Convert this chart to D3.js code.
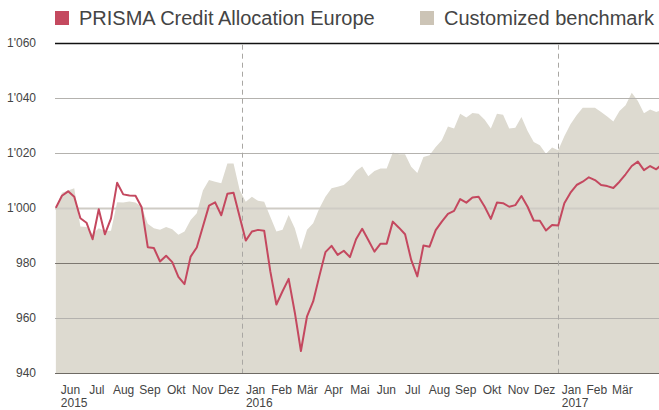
<!DOCTYPE html>
<html>
<head>
<meta charset="utf-8">
<script src="https://cdn.jsdelivr.net/npm/d3@7"></script>
<style>
  body { margin: 0; background: #fff; }
  svg { display: block; font-family: "Liberation Sans", Arial, sans-serif; }
</style>
</head>
<body>
<svg id="chart"></svg>
<script>
// weekly index values (base 1000)
const fundName = "PRISMA Credit Allocation Europe";
const benchName = "Customized benchmark";

const fund = [
  1000.0, 1004.4, 1006.0, 1004.0, 996.2, 994.6, 988.6, 999.5, 990.4, 996.2,
  1009.1, 1004.9, 1004.5, 1004.4, 1000.2, 985.7, 985.4, 980.5, 982.6, 980.3,
  974.9, 972.3, 982.3, 985.6, 993.2, 1000.8, 1002.0, 997.3, 1005.1, 1005.5,
  996.8, 988.1, 991.4, 992.0, 991.7, 977.0, 964.9, 969.7, 974.2, 962.0,
  948.0, 960.6, 966.0, 975.1, 983.9, 986.2, 982.9, 984.4, 982.1, 988.6,
  992.4, 988.3, 984.1, 987.0, 987.0, 995.0, 992.8, 990.4, 981.1, 975.1,
  986.3, 985.9, 991.9, 995.0, 997.8, 998.9, 1003.2, 1001.9, 1003.8, 1004.0,
  1000.4, 996.0, 1001.9, 1001.7, 1000.4, 1001.0, 1004.3, 1000.4, 995.4, 995.3,
  991.8, 993.8, 993.6, 1001.7, 1005.5, 1008.3, 1009.5, 1011.1, 1010.1, 1008.3,
  1007.9, 1007.2, 1009.5, 1012.2, 1015.2, 1016.8, 1013.7, 1015.2, 1014.0, 1016.0
];

const bench = [
  1000.0, 1005.5, 1006.3, 1007.1, 993.2, 993.0, 990.5, 992.6, 991.6, 991.7,
  1002.0, 1001.9, 1002.3, 1001.9, 1000.4, 994.2, 992.6, 992.0, 993.0, 992.2,
  990.2, 991.4, 995.6, 998.0, 1006.3, 1010.1, 1009.5, 1008.9, 1016.1, 1016.1,
  1006.5, 1002.2, 1004.0, 1002.6, 1002.2, 996.8, 991.4, 992.0, 997.4, 992.6,
  984.8, 992.0, 994.4, 999.8, 1004.0, 1007.1, 1007.7, 1008.3, 1010.3, 1013.4,
  1015.0, 1011.5, 1013.4, 1014.3, 1014.3, 1020.1, 1019.5, 1019.5, 1014.9, 1012.7,
  1018.5, 1019.1, 1022.1, 1024.6, 1029.6, 1028.8, 1034.2, 1032.8, 1034.5, 1034.2,
  1032.0, 1028.8, 1034.2, 1033.8, 1028.8, 1029.1, 1033.0, 1027.9, 1023.9, 1022.7,
  1019.7, 1021.9, 1020.9, 1026.0, 1030.4, 1033.6, 1036.4, 1036.4, 1036.4, 1034.8,
  1033.2, 1031.4, 1035.2, 1037.3, 1041.8, 1038.8, 1034.4, 1035.7, 1034.8, 1035.7
];

const yTicks = [940, 960, 980, 1000, 1020, 1040, 1060];
const monthNames = ["Jan", "Feb", "Mär", "Apr", "Mai", "Jun", "Jul", "Aug", "Sep", "Okt", "Nov", "Dez"];

const firstDate = new Date(2015, 4, 30);
const stepDays = 7.1;

const width = 659, height = 410;
const margin = { left: 55, right: 659, top: 42.7, bottom: 373 };

const svg = d3.select("#chart").attr("width", width).attr("height", height);

const dates = fund.map((d, i) => d3.timeHour.offset(firstDate, Math.round(i * stepDays * 24)));
const data = fund.map((d, i) => ({ date: dates[i], fund: d, bench: bench[i] }));

const x = d3.scaleTime()
  .domain([new Date(2015, 4, 29), new Date(2017, 3, 28)])
  .range([margin.left, margin.right]);

const y = d3.scaleLinear()
  .domain([940, 1060])
  .range([margin.bottom, margin.top]);

svg.append("defs").append("clipPath").attr("id", "plot")
  .append("rect")
  .attr("x", margin.left).attr("y", 0)
  .attr("width", margin.right - margin.left).attr("height", margin.bottom);

// benchmark area
svg.append("path")
  .datum(data)
  .attr("clip-path", "url(#plot)")
  .attr("fill", "#dddad0")
  .attr("d", d3.area()
    .x(d => x(d.date))
    .y0(y(940))
    .y1(d => y(d.bench)));

// gridlines on top of the area
const gridColor = v => v === 1060 ? "#111" : v === 940 ? "#6e6a64" : v === 980 ? "#7c7770" : v === 1000 ? "#cfccc5" : "#b4b2ae";
svg.append("g")
  .selectAll("line")
  .data(yTicks)
  .join("line")
  .attr("x1", margin.left).attr("x2", margin.right)
  .attr("y1", d => Math.round(y(d)) + 0.5)
  .attr("y2", d => Math.round(y(d)) + 0.5)
  .attr("stroke", gridColor)
  .attr("stroke-width", d => d === 1000 ? 2 : (d === 1060 ? 1.5 : 1));

// year separators
const years = [new Date(2016, 0, 1), new Date(2017, 0, 1)];
svg.append("g")
  .selectAll("line")
  .data(years)
  .join("line")
  .attr("x1", d => Math.round(x(d)) + 0.5)
  .attr("x2", d => Math.round(x(d)) + 0.5)
  .attr("y1", margin.top + 2).attr("y2", margin.bottom)
  .attr("stroke", "#a9a7a3")
  .attr("stroke-dasharray", "5,4");

// fund line
svg.append("path")
  .datum(data)
  .attr("clip-path", "url(#plot)")
  .attr("fill", "none")
  .attr("stroke", "#c4485f")
  .attr("stroke-width", 2)
  .attr("stroke-linejoin", "round")
  .attr("d", d3.line()
    .x(d => x(d.date))
    .y(d => y(d.fund)));

// y labels
const fmt = v => d3.format(",")(v).replace(",", "'");
svg.append("g")
  .selectAll("text")
  .data(yTicks)
  .join("text")
  .attr("x", 36)
  .attr("y", d => y(d) + 4)
  .attr("text-anchor", "end")
  .attr("font-size", 12)
  .attr("fill", "#444")
  .text(fmt);

// month labels, centred in their month
const months = d3.timeMonth.range(new Date(2015, 5, 1), new Date(2017, 3, 1));
const mid = d => x(new Date((+d + +d3.timeMonth.offset(d, 1)) / 2));
const xl = svg.append("g").attr("font-size", 12).attr("fill", "#444");
const mLabels = xl.selectAll("text.m")
  .data(months)
  .join("text")
  .attr("class", "m")
  .attr("x", mid)
  .attr("y", 394)
  .attr("text-anchor", "middle")
  .text(d => monthNames[d.getMonth()]);

// year under the first month label of each year, left aligned with it
const leftEdge = new Map();
mLabels.each(function(d) { leftEdge.set(+d, mid(d) - this.getComputedTextLength() / 2); });
xl.selectAll("text.yr")
  .data(months.filter((d, i) => i === 0 || d.getMonth() === 0))
  .join("text")
  .attr("class", "yr")
  .attr("x", d => leftEdge.get(+d))
  .attr("y", 407)
  .text(d => d.getFullYear());

// legend
const legend = [
  { name: fundName, color: "#c4495f", x: 55 },
  { name: benchName, color: "#ccc4b6", x: 420 }
];
const lg = svg.append("g").selectAll("g").data(legend).join("g")
  .attr("transform", d => `translate(${d.x},11)`);
lg.append("rect").attr("width", 14).attr("height", 14).attr("fill", d => d.color);
lg.append("text")
  .attr("x", 24).attr("y", 14)
  .attr("font-size", 20)
  .attr("fill", "#444")
  .text(d => d.name);
</script>
</body>
</html>
